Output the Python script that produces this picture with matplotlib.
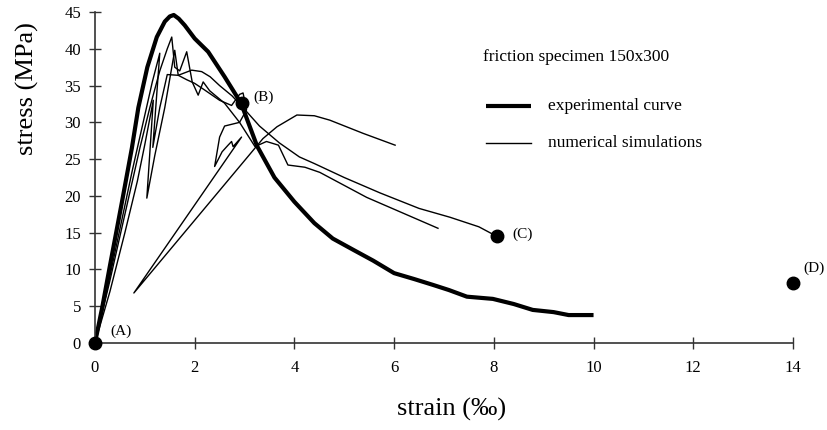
import numpy as np
import matplotlib
matplotlib.use('Agg')
import matplotlib.pyplot as plt

plt.rcParams['font.family'] = ['Liberation Serif', 'DejaVu Serif']

#%% data (strain in per mille, stress in MPa)
exp_strain = [0, 0.15, 0.3, 0.55, 0.74, 0.87, 1.05, 1.24, 1.4, 1.5, 1.58, 1.68, 1.8, 2.0, 2.27, 2.6, 2.93,
              3.25, 3.6, 4.0, 4.4, 4.77, 5.2, 5.58, 6.0, 6.4, 6.78, 7.1, 7.46, 7.98, 8.4, 8.78, 9.2, 9.5, 10.0]
exp_stress = [0, 5, 10.5, 19.5, 26.5, 32, 37.5, 41.6, 43.7, 44.4, 44.6, 44.1, 43.2, 41.4, 39.6, 36.2, 32.6,
              26.8, 22.5, 19.2, 16.3, 14.2, 12.6, 11.2, 9.5, 8.7, 7.9, 7.2, 6.3, 6.0, 5.3, 4.5, 4.2, 3.8, 3.8]

# simulation ending at (C)
sim1_strain = [0, 0.25, 0.5, 0.75, 1.0, 1.15, 1.3, 1.16, 1.3, 1.45, 1.67, 1.94, 2.14, 2.31, 2.5, 2.75,
               2.97, 3.3, 3.7, 4.1, 4.4, 5.0, 5.72, 6.5, 7.12, 7.7, 8.06]
sim1_stress = [0, 7.5, 15.5, 23.5, 31, 35.5, 39.4, 26.6, 32, 36.5, 36.4, 37.1, 36.9, 36.2, 35, 33.6,
               32, 29.5, 27.2, 25.3, 24.4, 22.5, 20.4, 18.3, 17.1, 15.8, 14.5]

# simulation ending near 6.9
sim2_strain = [0, 0.3, 0.6, 0.9, 1.1, 1.3, 1.45, 1.54, 1.6, 1.7, 1.84, 1.95, 2.07, 2.17, 2.3, 2.6,
               2.9, 3.21, 3.44, 3.68, 3.87, 4.21, 4.51, 5.45, 6.88]
sim2_stress = [0, 8.5, 17.5, 26.5, 32, 37, 40, 41.6, 37.5, 37, 39.6, 35.5, 33.7, 35.5, 34.3, 32.6,
               30, 26.7, 27.4, 26.9, 24.2, 23.9, 23.2, 19.8, 15.6]

# simulation with unloading loops, ending near 6.0
sim3_strain = [0, 0.3, 0.6, 0.85, 1.0, 1.17, 1.04, 1.2, 1.4, 1.6, 1.67, 1.84, 2.0, 2.2, 2.5, 2.74,
               2.9, 2.97, 3.04, 2.9, 2.6, 2.5, 2.4, 2.55, 2.67, 2.74, 2.77, 2.94, 0.78, 3.37, 3.65,
               4.05, 4.4, 4.71, 5.38, 6.02]
sim3_stress = [0, 7, 15, 22, 27, 33, 19.7, 25.5, 32, 39.8, 36.4, 35.8, 35.3, 34.4, 33, 32.3,
               33.8, 34, 31.7, 30, 29.5, 28, 24, 26, 26.9, 27.4, 26.7, 28, 6.8, 27.8, 29.4,
               31, 30.9, 30.3, 28.5, 26.9]

point_labels = ['(A)', '(B)', '(C)', '(D)']
point_strain = [0, 2.94, 8.06, 14.0]
point_stress = [0, 32.6, 14.5, 8.2]
label_strain = [0.3, 3.17, 8.38, 14.2]
label_stress = [1.6, 33.4, 14.8, 10.2]

#%% plot
fig = plt.figure(figsize=(8.28, 4.30), dpi=100)
ax = fig.add_axes([0.1147, 0.2023, 0.843, 0.7697])

for xs, ys in [(sim1_strain, sim1_stress), (sim2_strain, sim2_stress), (sim3_strain, sim3_stress)]:
    ax.plot(xs, ys, color='black', lw=1.0, solid_joinstyle='round')
ax.plot(exp_strain, exp_stress, color='black', lw=3.0, solid_joinstyle='round', solid_capstyle='butt')

ax.plot(point_strain, point_stress, 'o', color='black', ms=9, clip_on=False, zorder=5)
for lab, x, y in zip(point_labels, label_strain, label_stress):
    ax.text(x, y, lab, fontsize=11, va='center', ha='left')

# legend drawn by hand like in the original figure
ax.text(7.78, 38.9, 'friction specimen 150x300', fontsize=12.5, va='center')
ax.plot([7.85, 8.75], [32.2, 32.2], color='black', lw=3.0, solid_capstyle='butt')
ax.text(9.08, 32.2, 'experimental curve', fontsize=12.5, va='center')
ax.plot([7.85, 8.75], [27.2, 27.2], color='black', lw=1.0)
ax.text(9.08, 27.2, 'numerical simulations', fontsize=12.5, va='center')

ax.set_xlim(0, 14)
ax.set_ylim(0, 45)
ax.set_xticks(np.arange(0, 15, 2))
ax.set_yticks(np.arange(0, 46, 5))
for s in ['top', 'right']:
    ax.spines[s].set_visible(False)
for s in ['left', 'bottom']:
    ax.spines[s].set_color('#333333')
    ax.spines[s].set_linewidth(1.2)
ax.tick_params(direction='inout', length=8, width=1.0, color='#333333', labelsize=12)
ax.tick_params(axis='x', pad=8)
ax.tick_params(axis='y', pad=6)

fig.text(0.033, 0.795, 'stress (MPa)', rotation=90, fontsize=19, ha='center', va='center')
fig.text(0.545, 0.048, 'strain (\u2030)', fontsize=19, ha='center', va='center')

fig.savefig('out.png', dpi=100)
